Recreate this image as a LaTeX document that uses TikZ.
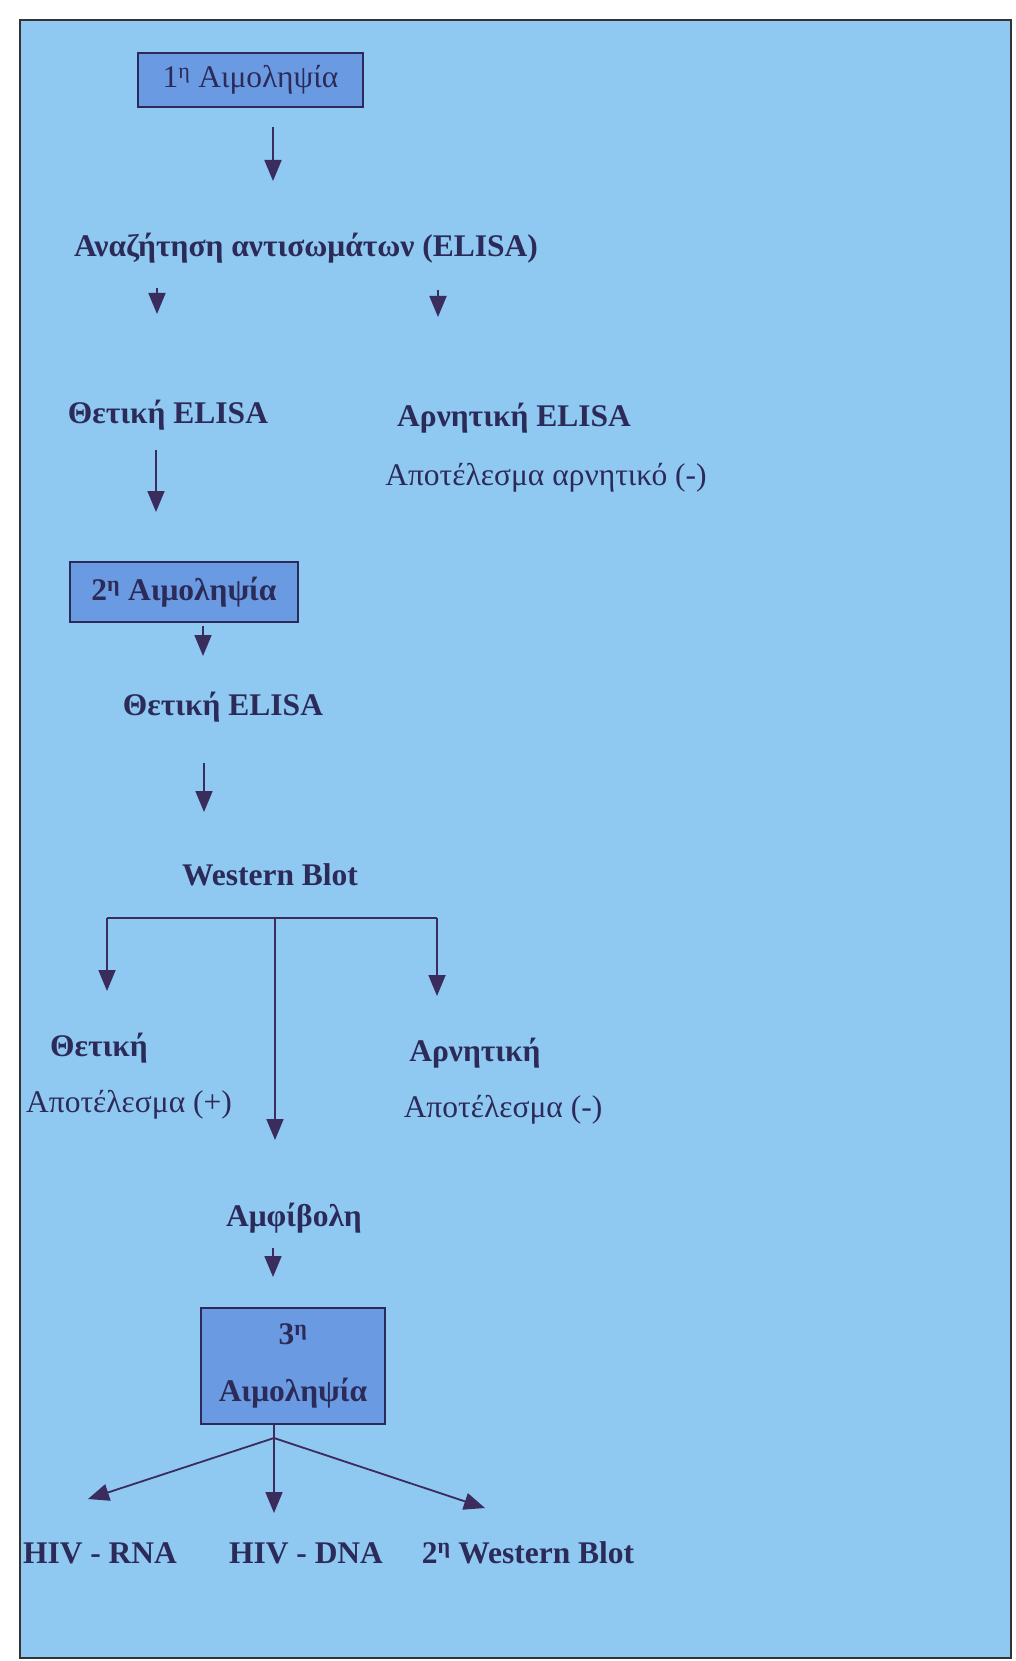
\documentclass[tikz,border=0pt]{standalone}
\usepackage{fontspec}
\setmainfont{Liberation Serif}
\usetikzlibrary{arrows.meta}
\definecolor{panel}{HTML}{8FC8F0}
\definecolor{boxfill}{HTML}{6A9BE2}
\definecolor{ink}{HTML}{2C2A58}
\definecolor{arrowc}{HTML}{3A2C5C}
\begin{document}
\begin{tikzpicture}[x=1pt,y=-1pt,
 lbl/.style={font=\fontsize{31.5}{34}\selectfont\bfseries, text=ink, inner sep=0pt, anchor=base},
 rlbl/.style={font=\fontsize{31.5}{34}\selectfont, text=ink, inner sep=0pt, anchor=base},
 boxnode/.style={draw=ink, line width=1.5pt, fill=boxfill, text=ink, inner sep=0pt},
 arr/.style={draw=arrowc, line width=1.8pt, -{Triangle[length=21pt,width=17pt]}},
 ln/.style={draw=arrowc, line width=1.8pt}]
\useasboundingbox (0,0) rectangle (1016,1661);
\fill[white] (0,0) rectangle (1016,1661);
\draw[fill=panel, draw=black!80, line width=2pt] (20,20) rectangle (1011,1658);

% boxes
\node[boxnode, minimum width=225pt, minimum height=54pt, font=\fontsize{31.5}{34}\selectfont] (b1) at (250.5,80) {1\textsuperscript{η} Αιμοληψία};
\node[boxnode, minimum width=228pt, minimum height=60pt, font=\fontsize{31.5}{34}\selectfont\bfseries] (b2) at (184,592) {2\textsuperscript{η} Αιμοληψία};
\node[boxnode, minimum width=184pt, minimum height=116pt, align=center, font=\fontsize{31.5}{57}\selectfont\bfseries] (b3) at (293,1366) {3\textsuperscript{η}\\Αιμοληψία};

% labels
\node[lbl] (search) at (306,257) {Αναζήτηση αντισωμάτων (ELISA)};
\node[lbl] (pos1) at (168,423) {Θετική ELISA};
\node[lbl] (neg1) at (514,426) {Αρνητική ELISA};
\node[rlbl] (negres1) at (546,485) {Αποτέλεσμα αρνητικό (-)};
\node[lbl] (pos2) at (223,715) {Θετική ELISA};
\node[lbl] (wb) at (270,885) {Western Blot};
\node[lbl] (pos3) at (99,1056) {Θετική};
\node[rlbl] (posres) at (129,1112) {Αποτέλεσμα (+)};
\node[lbl] (neg3) at (475,1061) {Αρνητική};
\node[rlbl] (negres3) at (503,1117) {Αποτέλεσμα (-)};
\node[lbl] (amf) at (294,1226) {Αμφίβολη};
\node[lbl] (rna) at (100,1563) {HIV - RNA};
\node[lbl] (dna) at (306,1563) {HIV - DNA};
\node[lbl] (wb2) at (528,1563) {2\textsuperscript{η} Western Blot};

% arrow endpoints
\coordinate (a1s) at (273,127); \coordinate (a1e) at (273,181);
\coordinate (a2s) at (157,288); \coordinate (a2e) at (157,314);
\coordinate (a3s) at (438,290); \coordinate (a3e) at (438,317);
\coordinate (a4s) at (156,450); \coordinate (a4e) at (156,512);
\coordinate (a5s) at (203,626); \coordinate (a5e) at (203,656);
\coordinate (a6s) at (204,763); \coordinate (a6e) at (204,812);
\coordinate (brL) at (107,918); \coordinate (brM) at (275,918); \coordinate (brR) at (437,918);
\coordinate (brLe) at (107,991); \coordinate (brMe) at (275,1140); \coordinate (brRe) at (437,996);
\coordinate (a7s) at (273,1248); \coordinate (a7e) at (273,1277);
\coordinate (b3s) at (274,1424); \coordinate (j3) at (274,1438);
\coordinate (t1) at (88,1499); \coordinate (t2) at (274,1513); \coordinate (t3) at (485,1508);

\draw[arr] (a1s) -- (a1e);
\draw[arr] (a2s) -- (a2e);
\draw[arr] (a3s) -- (a3e);
\draw[arr] (a4s) -- (a4e);
\draw[arr] (a5s) -- (a5e);
\draw[arr] (a6s) -- (a6e);
\draw[ln] (brL) -- (brR);
\draw[arr] (brL) -- (brLe);
\draw[arr] (brR) -- (brRe);
\draw[arr] (brM) -- (brMe);
\draw[arr] (a7s) -- (a7e);
\draw[ln] (b3s) -- (j3);
\draw[arr] (j3) -- (t1);
\draw[arr] (j3) -- (t2);
\draw[arr] (j3) -- (t3);
\end{tikzpicture}
\end{document}
